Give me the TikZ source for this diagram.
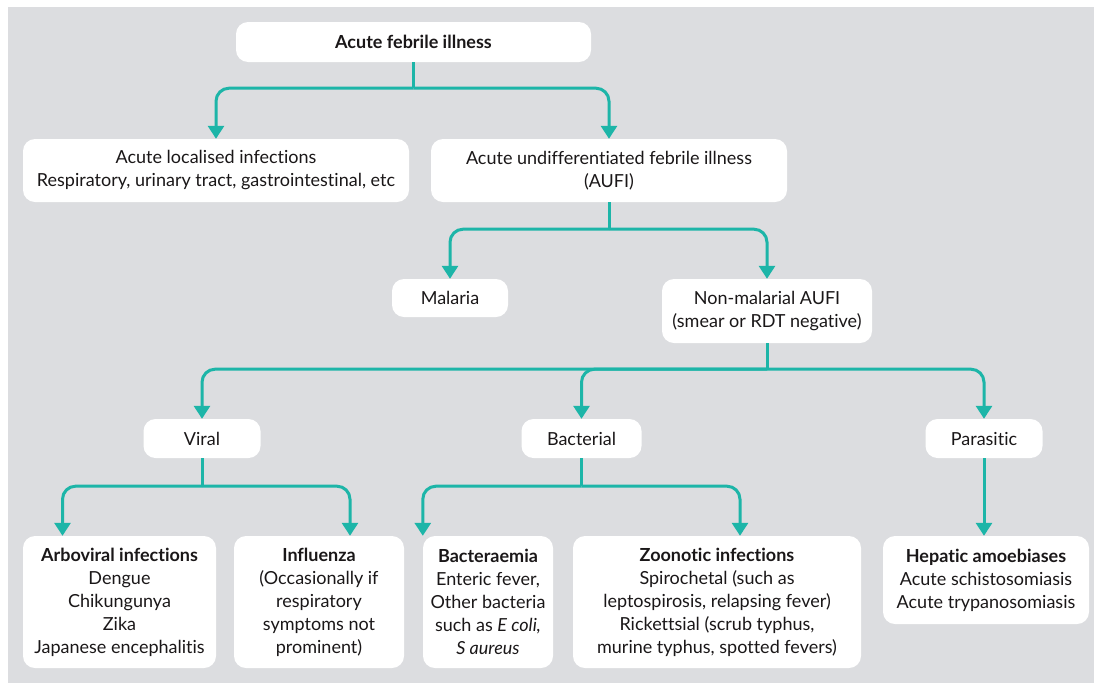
\documentclass[tikz,border=0pt]{standalone}
\usepackage{fontspec}
\setmainfont{Lato}[Ligatures={NoCommon}]
\usetikzlibrary{arrows.meta,calc}
\definecolor{bgc}{HTML}{DCDDE0}
\definecolor{tealc}{HTML}{1DB5A8}
\definecolor{textc}{HTML}{1A1718}
\begin{document}
\begin{tikzpicture}[x=1pt,y=-1pt,
  box/.style={fill=white, rounded corners=12pt, inner sep=0pt, align=center,
    font=\fontsize{18}{23}\selectfont, text=textc},
  conn/.style={draw=tealc, line width=3pt},
  arr/.style={conn, -{Triangle[width=16pt,length=13pt]}, rounded corners=13pt}]
\useasboundingbox (0,0) rectangle (1094,683);
\fill[white] (0,0) rectangle (1094,683);
\fill[bgc] (8,7) rectangle (1094,683);

\node[box, minimum width=355pt, minimum height=40pt] (top) at (413.5,42) {\bfseries Acute febrile illness};
\node[box, minimum width=386pt, minimum height=63pt] (loc) at (216,170.5) {Acute localised infections\\Respiratory, urinary tract, gastrointestinal, etc};
\node[box, minimum width=356pt, minimum height=63pt] (aufi) at (609,170.5) {Acute undifferentiated febrile illness\\(AUFI)};
\node[box, minimum width=116pt, minimum height=38pt] (mal) at (450,298) {Malaria};
\node[box, minimum width=210pt, minimum height=64pt] (nonmal) at (767,311) {Non-malarial AUFI\\(smear or RDT negative)};
\node[box, minimum width=117pt, minimum height=39pt] (viral) at (202,438.5) {Viral};
\node[box, minimum width=120pt, minimum height=39pt] (bact) at (581.5,438.5) {Bacterial};
\node[box, minimum width=117pt, minimum height=39pt] (para) at (984,438.5) {Parasitic};
\node[box, minimum width=193pt, minimum height=132pt] (arbo) at (119.5,602) {{\bfseries Arboviral infections}\\Dengue\\Chikungunya\\Zika\\Japanese encephalitis};
\node[box, minimum width=170pt, minimum height=132pt] (infl) at (319,602) {{\bfseries Influenza}\\(Occasionally if\\respiratory\\symptoms not\\prominent)};
\node[box, minimum width=130pt, minimum height=132pt] (bactm) at (488,602) {{\bfseries Bacteraemia}\\Enteric fever,\\Other bacteria\\such as \textit{E coli,}\\\textit{S aureus}};
\node[box, minimum width=288pt, minimum height=132pt] (zoo) at (717,602) {{\bfseries Zoonotic infections}\\Spirochetal (such as\\leptospirosis, relapsing fever)\\Rickettsial (scrub typhus,\\murine typhus, spotted fevers)};
\node[box, minimum width=206pt, minimum height=88pt] (hep) at (986,580) {{\bfseries Hepatic amoebiases}\\Acute schistosomiasis\\Acute trypanosomiasis};

\draw[conn] (top.south) -- ++(0,26) coordinate (j1);
\draw[arr] (j1) -| (loc.north);
\draw[arr] (j1) -| (aufi.north);

\draw[conn] (aufi.south) -- ++(0,27) coordinate (j2);
\draw[arr] (j2) -| (mal.north);
\draw[arr] (j2) -| (nonmal.north);

\draw[conn] (nonmal.south) -- ++(0,26) coordinate (j3);
\draw[arr] (j3) -| (viral.north);
\draw[arr] (j3) -| (bact.north);
\draw[arr] (j3) -| (para.north);

\draw[conn] (viral.south) -- ++(0,28) coordinate (j4);
\draw[arr] (j4) -| ([xshift=-57pt]arbo.north);
\draw[arr] (j4) -| ([xshift=31pt]infl.north);

\draw[conn] (bact.south) -- ++(0,28) coordinate (j5);
\draw[arr] (j5) -| ([xshift=0pt]bactm.north west);
\draw[arr] (j5) -| ([xshift=23pt]zoo.north);

\draw[arr] (para.south) -- (para.south |- hep.north);
\end{tikzpicture}
\end{document}
